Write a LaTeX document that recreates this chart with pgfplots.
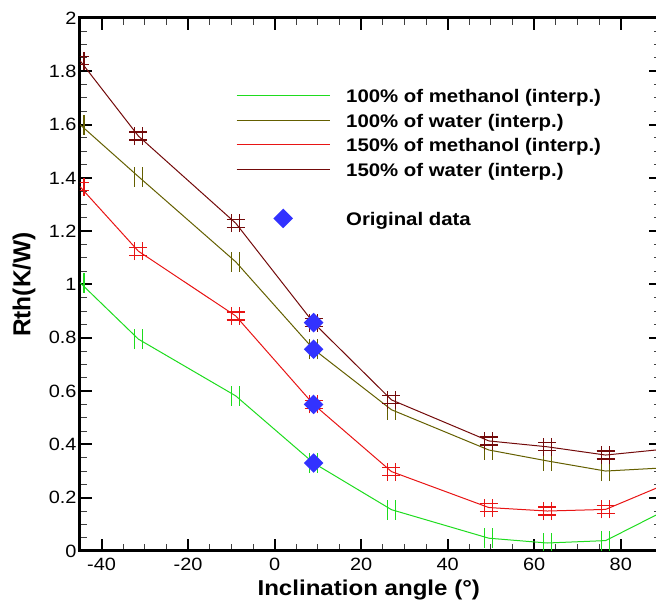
\documentclass[border=0pt]{standalone}
\usepackage{fontspec}
\setmainfont{Liberation Sans}[FakeStretch=1.12]
\newfontfamily\yfont{Liberation Sans}
\usepackage{pgfplots}
\pgfplotsset{compat=1.18}

\definecolor{cgreen}{RGB}{30,220,30}
\definecolor{colive}{RGB}{100,95,0}
\definecolor{cred}{RGB}{232,20,20}
\definecolor{cdred}{RGB}{115,10,10}
\definecolor{cblue}{RGB}{50,50,255}

\pgfdeclareplotmark{hh}{%
  \pgfpathmoveto{\pgfqpoint{-4pt}{-10pt}}\pgfpathlineto{\pgfqpoint{-4pt}{10pt}}%
  \pgfpathmoveto{\pgfqpoint{4pt}{-10pt}}\pgfpathlineto{\pgfqpoint{4pt}{10pt}}%
  \pgfusepathqstroke}
\pgfdeclareplotmark{hash}{%
  \pgfpathmoveto{\pgfqpoint{-4pt}{-9pt}}\pgfpathlineto{\pgfqpoint{-4pt}{9pt}}%
  \pgfpathmoveto{\pgfqpoint{4pt}{-9pt}}\pgfpathlineto{\pgfqpoint{4pt}{9pt}}%
  \pgfpathmoveto{\pgfqpoint{-9pt}{-4pt}}\pgfpathlineto{\pgfqpoint{9pt}{-4pt}}%
  \pgfpathmoveto{\pgfqpoint{-9pt}{4pt}}\pgfpathlineto{\pgfqpoint{9pt}{4pt}}%
  \pgfusepathqstroke}
\pgfdeclareplotmark{bigdiamond}{%
  \pgfpathmoveto{\pgfqpoint{0pt}{9.8pt}}\pgfpathlineto{\pgfqpoint{9.8pt}{0pt}}%
  \pgfpathlineto{\pgfqpoint{0pt}{-9.8pt}}\pgfpathlineto{\pgfqpoint{-9.8pt}{0pt}}%
  \pgfpathclose\pgfusepathqfill}

\pgfplotsset{
  linelegend/.style={legend image code/.code={%
    \path (0pt,0pt) (93pt,0pt);
    \draw[##1] (0pt,0pt) -- (93pt,0pt);}},
  diamlegend/.style={legend image code/.code={%
    \path (0pt,0pt) (93pt,0pt);
    \draw[##1] plot[only marks] coordinates {(46.5pt,0pt)};}},
}

\pgfplotstableread{
x      g      o      r      d
-45    1.007  1.600  1.367  1.840
-31.5  0.795  1.405  1.125  1.557
-9     0.582  1.085  0.882  1.230
9      0.330  0.757  0.550  0.856
27     0.155  0.530  0.298  0.567
49.5   0.048  0.379  0.163  0.413
63     0.030  0.338  0.150  0.391
76.5   0.039  0.300  0.156  0.360
90     0.150  0.312  0.248  0.382
}\curves

\pgfplotstableread{
x   y
9   0.330
9   0.550
9   0.757
9   0.857
}\orig

\begin{document}
\begin{tikzpicture}
\begin{axis}[
  name=ax, at={(0,0)}, anchor=south west,
  scale only axis, width=581pt, height=533pt,
  xmin=-45, xmax=89.3, ymin=0, ymax=2,
  xtick={-40,-20,0,20,40,60,80},
  ytick={0,0.2,0.4,0.6,0.8,1,1.2,1.4,1.6,1.8,2},
  minor tick num=3,
  tick align=inside, tick pos=both,
  xticklabel pos=lower, yticklabel pos=left,
  major tick length=12pt, minor tick length=7pt,
  major tick style={line width=2pt, black},
  minor tick style={line width=1pt, black!75},
  axis line style={line width=3pt},
  clip marker paths=true,
  /pgf/number format/assume math mode=true,
  ticklabel style={font=\fontsize{17.8}{20}\selectfont},
  xticklabel style={yshift=-3.5pt},
  xlabel={Inclination angle (°)},
  ylabel={Rth(K/W)},
  xlabel style={font=\bfseries\fontsize{21.5}{26}\selectfont, at={(axis description cs:0.497,-0.0826)}, anchor=base},
  ylabel style={font=\yfont\bfseries\fontsize{24.5}{28}\selectfont, at={(axis description cs:-0.0964,0.5)}, anchor=center},
  legend style={at={(axis description cs:0.2685,0.8772)}, anchor=north west, draw=none, fill=none,
    inner sep=0pt, row sep=0pt, column sep=16pt,
    font=\bfseries\fontsize{18.2}{22}\selectfont,
    nodes={inner sep=0pt, text height=18.95pt, text depth=5.55pt}},
  legend cell align=left,
  linelegend,
]
\addplot[cgreen, line width=1pt, mark=hh, mark options={line width=1.2pt}] table[x=x,y=g] {\curves};
\addlegendentry{100\% of methanol (interp.)}
\addplot[colive, line width=1pt, mark=hh, mark options={line width=1.2pt}] table[x=x,y=o] {\curves};
\addlegendentry{100\% of water (interp.)}
\addplot[cred, line width=1pt, mark=hash, mark options={line width=1.2pt}] table[x=x,y=r] {\curves};
\addlegendentry{150\% of methanol (interp.)}
\addplot[cdred, line width=1pt, mark=hash, mark options={line width=1.2pt}] table[x=x,y=d] {\curves};
\addlegendentry{150\% of water (interp.)}
\addlegendimage{empty legend}
\addlegendentry{}
\addplot[only marks, mark=bigdiamond, color=cblue, diamlegend] table[x=x,y=y] {\orig};
\addlegendentry{Original data}
\end{axis}
\pgfresetboundingbox
\useasboundingbox (-80pt,-53pt) rectangle (576pt,551pt);
\end{tikzpicture}
\end{document}
